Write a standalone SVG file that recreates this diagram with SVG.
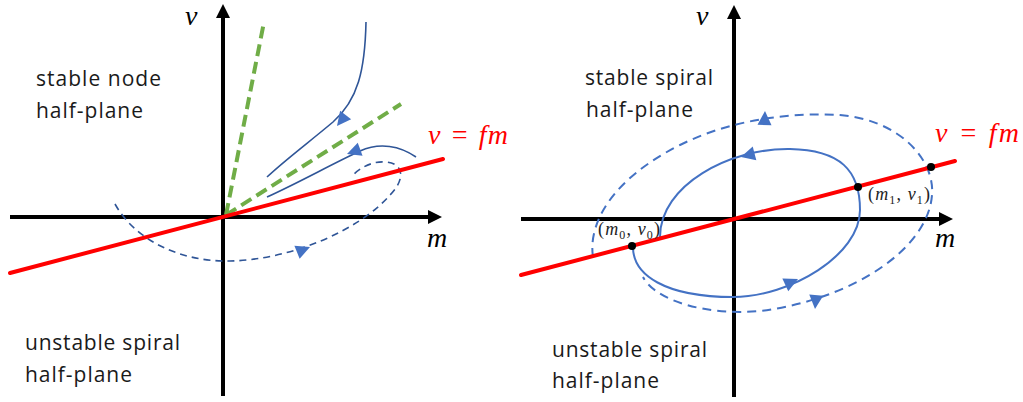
<svg xmlns="http://www.w3.org/2000/svg" width="1023" height="402" viewBox="0 0 1023 402">
<style>
.axis{stroke:#000;stroke-width:4;fill:none}
.red{stroke:#FF0000;stroke-width:4;fill:none;stroke-linecap:round}
.green{stroke:#70AD47;stroke-width:4;fill:none;stroke-dasharray:12 6}
.dk{stroke:#2F5597;stroke-width:1.6;fill:none}
.dkd{stroke:#2F5597;stroke-width:1.6;fill:none;stroke-dasharray:7 5}
.bl{stroke:#4472C4;stroke-width:2;fill:none}
.bld{stroke:#4472C4;stroke-width:2;fill:none;stroke-dasharray:9 6}
.lbl{font-family:"Open Sans","Liberation Sans",sans-serif;font-size:21px;fill:#1a1a1a}
.math{font-family:"Liberation Serif","DejaVu Serif",serif;font-style:italic;font-size:28px;fill:#000}
.rmath{font-family:"Liberation Serif","DejaVu Serif",serif;font-style:italic;font-size:28px;fill:#FF0000}
.pt{font-family:"Liberation Serif","DejaVu Serif",serif;font-size:18px;fill:#222}
.ah{fill:#4472C4}
</style>
<defs>
<marker id="axarrow" markerUnits="userSpaceOnUse" markerWidth="16" markerHeight="16" viewBox="0 0 16 16" refX="2" refY="8" orient="auto">
<path d="M0,1 L14,8 L0,15 Z" fill="#000"/>
</marker>
<path id="tri" d="M0,0 L-14,-7 L-14,7 Z"/>
</defs>

<g id="left-axes">
<line class="axis" x1="10" y1="217" x2="430" y2="217" marker-end="url(#axarrow)"/>
<line class="axis" x1="223" y1="396" x2="223" y2="16" marker-end="url(#axarrow)"/>
<text class="math" x="185" y="25" font-size="24">v</text>
<text class="math" x="427" y="247">m</text>
</g>

<g id="right-axes">
<line class="axis" x1="521" y1="219" x2="941" y2="219" marker-end="url(#axarrow)"/>
<line class="axis" x1="734" y1="397" x2="734" y2="17" marker-end="url(#axarrow)"/>
<text class="math" x="696" y="25" font-size="24">v</text>
<text class="math" x="935" y="247">m</text>
</g>

<g id="connectors">
<line class="green" x1="226" y1="215" x2="264" y2="22"/>
<line class="green" x1="226" y1="215" x2="401" y2="104"/>
<path class="dk" d="M366,22 C365,70 358,100 333,122 C308,143 285,160 267,177"/>
<path class="dk" d="M416,157 C400,146 380,142 360,151 C330,165 300,182 267,197"/>
<path class="dkd" d="M115,204 C135,240 180,262 230,261 C290,260 360,230 390,195 C405,180 405,163 385,162 C372,161 360,168 353,175"/>
<line class="red" x1="10" y1="273" x2="443" y2="159"/>
<use href="#tri" class="ah" transform="translate(337,126) rotate(128)"/>
<use href="#tri" class="ah" transform="translate(347,154) rotate(160)"/>
<use href="#tri" class="ah" transform="translate(310,247) rotate(-22)"/>
<path class="bl" d="M633,247 C633,275 665,297 733,297 C790,297 860,255 860,210 C860,170 840,150 790,149 C730,148 660,185 660,237"/>
<path class="bld" d="M593,257 C588,225 610,180 680,145 C730,120 790,112 840,115 C900,120 935,160 932,195 C928,250 850,300 760,311 C705,316 655,300 643,277"/>
<line class="red" x1="521" y1="275" x2="955" y2="161"/>
<use href="#tri" class="ah" transform="translate(741,157) rotate(165)"/>
<use href="#tri" class="ah" transform="translate(798,279) rotate(-25)"/>
<use href="#tri" class="ah" transform="translate(765,111) rotate(-88)"/>
<use href="#tri" class="ah" transform="translate(815,309) rotate(95)"/>
</g>

<g id="points">
<circle cx="632" cy="246" r="4" fill="#000"/>
<circle cx="858" cy="187" r="4" fill="#000"/>
<circle cx="931" cy="167" r="4" fill="#000"/>
<text class="pt" x="868" y="200" textLength="62">(<tspan font-style="italic">m</tspan><tspan font-size="12" dy="4">1</tspan><tspan dy="-4">, </tspan><tspan font-style="italic">v</tspan><tspan font-size="12" dy="4">1</tspan><tspan dy="-4">)</tspan></text>
<text class="pt" x="598" y="235" textLength="62">(<tspan font-style="italic">m</tspan><tspan font-size="12" dy="4">0</tspan><tspan dy="-4">, </tspan><tspan font-style="italic">v</tspan><tspan font-size="12" dy="4">0</tspan><tspan dy="-4">)</tspan></text>
</g>

<g id="line-labels">
<text class="rmath" x="428" y="144" textLength="80">v = fm</text>
<text class="rmath" x="935" y="142" textLength="84">v = fm</text>
</g>

<g id="region-labels">
<text class="lbl" x="36" y="86" textLength="125">stable node</text>
<text class="lbl" x="36" y="118" textLength="107">half-plane</text>
<text class="lbl" x="25" y="350" textLength="155">unstable spiral</text>
<text class="lbl" x="25" y="382" textLength="107">half-plane</text>
<text class="lbl" x="585" y="85" textLength="128">stable spiral</text>
<text class="lbl" x="586" y="117" textLength="107">half-plane</text>
<text class="lbl" x="552" y="357" textLength="155">unstable spiral</text>
<text class="lbl" x="552" y="388" textLength="107">half-plane</text>
</g>
</svg>
